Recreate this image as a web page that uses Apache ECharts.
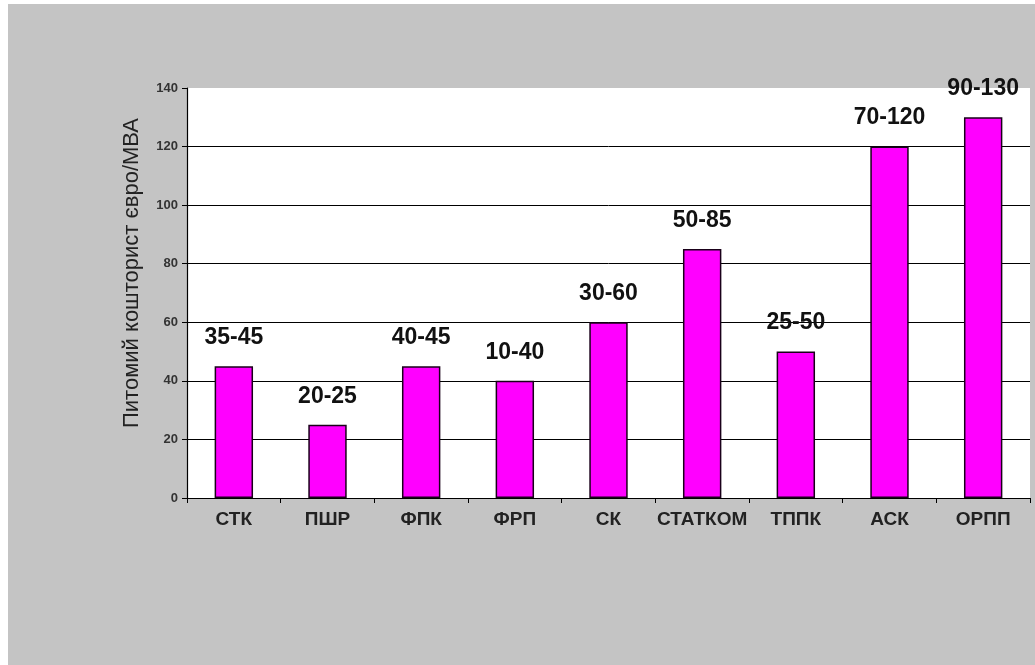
<!DOCTYPE html>
<html>
<head>
<meta charset="utf-8">
<script src="https://cdn.jsdelivr.net/npm/echarts@6/dist/echarts.min.js"></script>
<style>
  html, body { margin: 0; padding: 0; background: #ffffff; }
  #chart { position: absolute; left: 8px; top: 4px; width: 1027px; height: 661px; background: #c4c4c4; }
</style>
</head>
<body>
<div id="chart"></div>
<script>
// Compensation devices and their specific cost (upper bound of the range)
const categories = ['СТК', 'ПШР', 'ФПК', 'ФРП', 'СК', 'СТАТКОМ', 'ТППК', 'АСК', 'ОРПП'];
const upperCost = [45, 25, 45, 40, 60, 85, 50, 120, 130];
const rangeLabels = ['35-45', '20-25', '40-45', '10-40', '30-60', '50-85', '25-50', '70-120', '90-130'];
const yTicks = [0, 20, 40, 60, 80, 100, 120, 140];

// every grid line black except the one at the top value
const gridColors = yTicks.map((v, i) => (i === yTicks.length - 1 ? 'rgba(0,0,0,0)' : '#000'));

const chart = echarts.init(document.getElementById('chart'), null, { renderer: 'canvas' });

chart.setOption({
  backgroundColor: '#c4c4c4',
  animation: false,
  grid: { left: 179, right: 5, top: 84, bottom: 167, show: true, backgroundColor: '#ffffff', borderWidth: 0 },
  xAxis: {
    type: 'category',
    data: categories,
    axisLine: { lineStyle: { color: '#000', width: 1.2 } },
    axisTick: { show: true, length: 5, lineStyle: { color: '#000' } },
    axisLabel: {
      interval: 0,
      color: '#222', fontFamily: 'Arial, Liberation Sans, sans-serif',
      fontWeight: 'bold', fontSize: 19, margin: 12
    }
  },
  yAxis: {
    type: 'value',
    min: yTicks[0],
    max: yTicks[yTicks.length - 1],
    interval: 20,
    name: 'Питомий кошторист євро/МВА',
    nameLocation: 'middle',
    nameGap: 44,
    nameTextStyle: {
      color: '#222', fontFamily: 'Arial, Liberation Sans, sans-serif', fontSize: 22,
      padding: [0, 0, 0, 40]
    },
    axisLine: { show: true, lineStyle: { color: '#000', width: 1.2 } },
    axisTick: { show: true, length: 5, lineStyle: { color: '#000' } },
    axisLabel: {
      color: '#333', fontFamily: 'Arial, Liberation Sans, sans-serif',
      fontWeight: 'bold', fontSize: 13, margin: 9
    },
    splitLine: { lineStyle: { color: gridColors, width: 1 } }
  },
  series: [{
    type: 'bar',
    data: upperCost,
    barWidth: '41%',
    itemStyle: { color: '#ff00ff', borderColor: '#1a001a', borderWidth: 1.5 },
    label: {
      show: true,
      position: 'top',
      distance: 17,
      color: '#111',
      fontFamily: 'Arial, Liberation Sans, sans-serif',
      fontWeight: 'bold',
      fontSize: 23,
      formatter: p => rangeLabels[p.dataIndex]
    }
  }]
});
</script>
</body>
</html>
